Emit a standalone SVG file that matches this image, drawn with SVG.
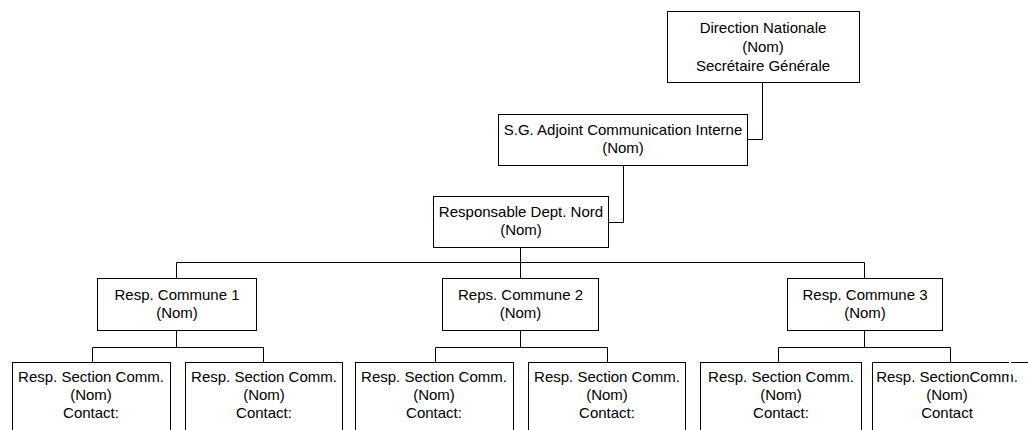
<svg xmlns="http://www.w3.org/2000/svg" width="1028" height="430" viewBox="0 0 1028 430">
<style>
.box{fill:#fff;stroke:#000;stroke-width:1}
.t{font-family:"Liberation Sans",Arial,sans-serif;font-size:15px;fill:#000;text-anchor:middle}
.c{fill:none;stroke:#000;stroke-width:1}
</style>
<rect width="1028" height="430" fill="#fff"/>
<g id="connectors">
<path class="c" d="M762.5 82.5V139.5H747.5"/>
<path class="c" d="M623.5 165.5V222.5H608.5"/>
<path class="c" d="M520.5 247.5V278.5M176.5 262.5H864.5M176.5 262.5V278.5M864.5 262.5V278.5"/>
<path class="c" d="M176.5 330.5V347.5M92.5 347.5H263.5M92.5 347.5V362.5M263.5 347.5V362.5"/>
<path class="c" d="M520.5 330.5V347.5M435.5 347.5H607.5M435.5 347.5V362.5M607.5 347.5V362.5"/>
<path class="c" d="M864.5 330.5V347.5M778.5 347.5H950.5M778.5 347.5V362.5M950.5 347.5V362.5"/>
</g>
<g id="direction">
<rect class="box" x="667.5" y="11.5" width="192" height="71"/>
<text class="t" x="763" y="33">Direction Nationale</text>
<text class="t" x="763" y="52">(Nom)</text>
<text class="t" x="763" y="71">Secrétaire Générale</text>
</g>
<g id="sg-adjoint">
<rect class="box" x="498.5" y="114.5" width="249" height="51"/>
<text class="t" x="623" y="135">S.G. Adjoint Communication Interne</text>
<text class="t" x="623" y="153">(Nom)</text>
</g>
<g id="dept-nord">
<rect class="box" x="433.5" y="196.5" width="175" height="51"/>
<text class="t" x="521" y="217">Responsable Dept. Nord</text>
<text class="t" x="521" y="235">(Nom)</text>
</g>
<g id="commune1">
<rect class="box" x="97.5" y="278.5" width="159" height="52"/>
<text class="t" x="177" y="300">Resp. Commune 1</text>
<text class="t" x="177" y="318">(Nom)</text>
</g>
<g id="commune2">
<rect class="box" x="442.5" y="278.5" width="156" height="52"/>
<text class="t" x="520.5" y="300">Reps. Commune 2</text>
<text class="t" x="520.5" y="318">(Nom)</text>
</g>
<g id="commune3">
<rect class="box" x="787.5" y="278.5" width="155" height="52"/>
<text class="t" x="865" y="300">Resp. Commune 3</text>
<text class="t" x="865" y="318">(Nom)</text>
</g>
<g id="section1">
<rect class="box" x="12.5" y="362.5" width="158" height="80"/>
<text class="t" x="91" y="382">Resp. Section Comm.</text>
<text class="t" x="91" y="400">(Nom)</text>
<text class="t" x="91" y="418">Contact:</text>
</g>
<g id="section2">
<rect class="box" x="185.5" y="362.5" width="157" height="80"/>
<text class="t" x="264" y="382">Resp. Section Comm.</text>
<text class="t" x="264" y="400">(Nom)</text>
<text class="t" x="264" y="418">Contact:</text>
</g>
<g id="section3">
<rect class="box" x="355.5" y="362.5" width="158" height="80"/>
<text class="t" x="434" y="382">Resp. Section Comm.</text>
<text class="t" x="434" y="400">(Nom)</text>
<text class="t" x="434" y="418">Contact:</text>
</g>
<g id="section4">
<rect class="box" x="528.5" y="362.5" width="157" height="80"/>
<text class="t" x="607" y="382">Resp. Section Comm.</text>
<text class="t" x="607" y="400">(Nom)</text>
<text class="t" x="607" y="418">Contact:</text>
</g>
<g id="section5">
<rect class="box" x="700.5" y="362.5" width="161" height="80"/>
<text class="t" x="781" y="382">Resp. Section Comm.</text>
<text class="t" x="781" y="400">(Nom)</text>
<text class="t" x="781" y="418">Contact:</text>
</g>
<g id="section6">
<path class="c" d="M872.5 440V362.5H1028"/>
<text class="t" x="947" y="382">Resp. SectionComm.</text>
<text class="t" x="947" y="400">(Nom)</text>
<text class="t" x="947" y="418">Contact</text>
<rect x="1009" y="355" width="2" height="40" fill="#fff"/>
</g>
</svg>
